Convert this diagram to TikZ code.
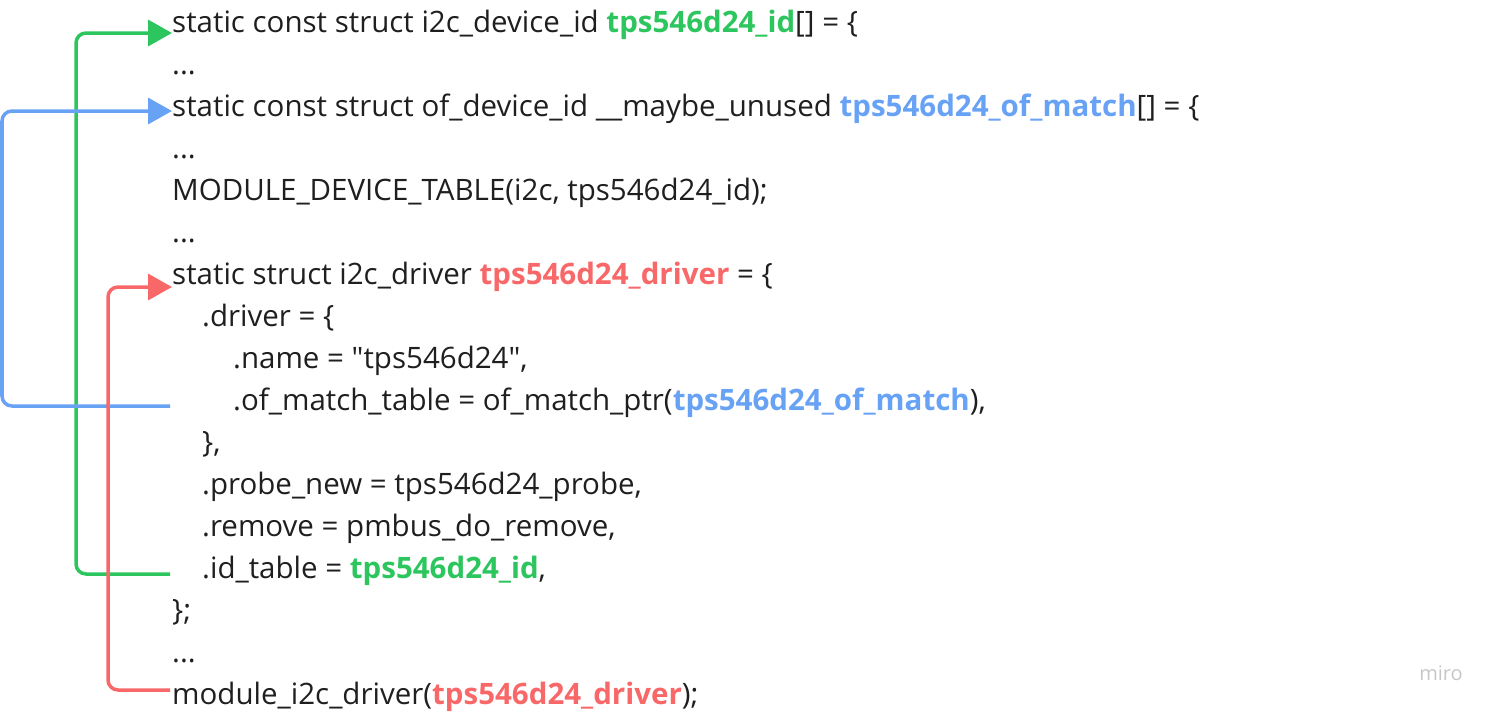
\documentclass[tikz,border=0pt]{standalone}
\usepackage{fontspec}
\setmainfont{Open Sans}
\usetikzlibrary{arrows.meta}
\definecolor{idgreen}{HTML}{2DC55E}
\definecolor{ofblue}{HTML}{68A2F5}
\definecolor{drvred}{HTML}{F96868}
\definecolor{codetext}{HTML}{1F1F1F}
\newcommand{\G}[1]{\textcolor{idgreen}{\textbf{#1}}}
\newcommand{\B}[1]{\textcolor{ofblue}{\textbf{#1}}}
\newcommand{\R}[1]{\textcolor{drvred}{\textbf{#1}}}
\begin{document}
\begin{tikzpicture}[x=1pt,y=-1pt,
        line/.style={anchor=base west,inner sep=0pt,text=codetext,
            font=\fontsize{29.5}{32}\selectfont},
        link/.style={line width=3.5pt,rounded corners=10pt,
            -{Triangle[length=24pt,width=26pt]}}]
        \useasboundingbox (0,0) rectangle (1500,716);

        \node[line] (l1)  at (172,32)  {static const struct i2c\_device\_id \G{tps546d24\_id}[] = \{};
        \node[line] (l2)  at (172,74)  {...};
        \node[line] (l3)  at (172,116) {static const struct of\_device\_id \_\_maybe\_unused \B{tps546d24\_of\_match}[] = \{};
        \node[line] (l4)  at (172,158) {...};
        \node[line] (l5)  at (172,200) {MODULE\_DEVICE\_TABLE(i2c, tps546d24\_id);};
        \node[line] (l6)  at (172,242) {...};
        \node[line] (l7)  at (172,284) {static struct i2c\_driver \R{tps546d24\_driver} = \{};
        \node[line] (l8)  at (202,326) {.driver = \{};
        \node[line] (l9)  at (233,368) {.name = \textquotedbl tps546d24\textquotedbl,};
        \node[line] (l10) at (233,410) {.of\_match\_table = of\_match\_ptr(\B{tps546d24\_of\_match}),};
        \node[line] (l11) at (202,452) {\},};
        \node[line] (l12) at (202,494) {.probe\_new = tps546d24\_probe,};
        \node[line] (l13) at (202,536) {.remove = pmbus\_do\_remove,};
        \node[line] (l14) at (202,578) {.id\_table = \G{tps546d24\_id},};
        \node[line] (l15) at (172,620) {\};};
        \node[line] (l16) at (172,662) {...};
        \node[line] (l17) at (172,704) {module\_i2c\_driver(\R{tps546d24\_driver});};
        \node[text=gray!45,font=\fontsize{20}{22}\selectfont] (miro) at (1441,673) {miro};

        % connectors
        \coordinate (gs) at (170,574);
        \coordinate (bs) at (170,406);
        \coordinate (rs) at (170,690);
        \draw[link,idgreen] (gs) -- (76,574) |- ([yshift=-1pt]l1.base west);
        \draw[link,ofblue] (bs) -- (2,406) |- ([yshift=5pt]l3.base west);
        \draw[link,drvred] (rs) -- (108,690) |- ([yshift=-3pt]l7.base west);
\end{tikzpicture}
\end{document}
